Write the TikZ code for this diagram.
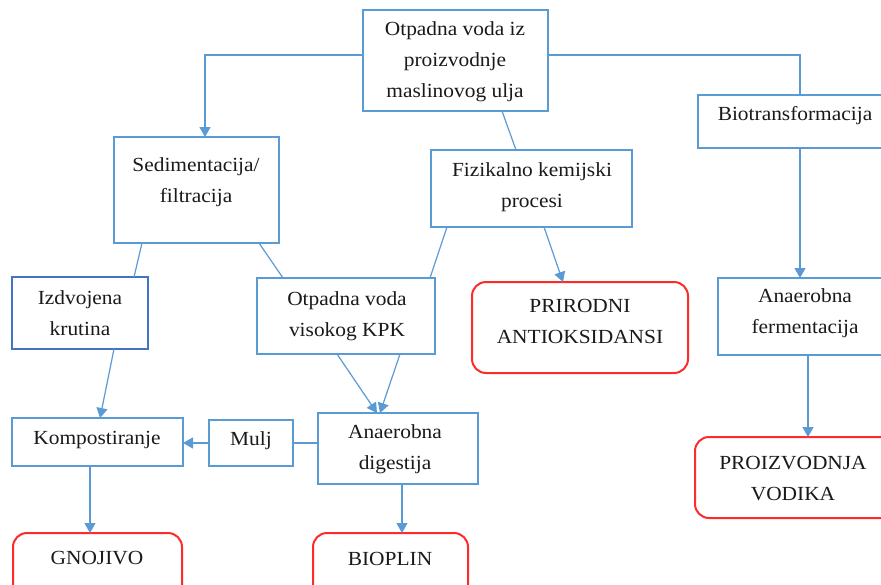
\documentclass[tikz,border=0pt]{standalone}
\usepackage{fontspec}
\setmainfont{Liberation Serif}[FakeStretch=1.07]
\usetikzlibrary{arrows.meta}
\definecolor{bblue}{HTML}{5B9BD5}
\definecolor{dblue}{HTML}{4472C4}
\definecolor{rred}{HTML}{FF2A2A}
\definecolor{ttext}{HTML}{1A1A1A}
\tikzset{
  box/.style={draw=bblue, line width=2pt, inner sep=0pt, outer sep=0pt, anchor=north west},
  rbox/.style={draw=rred, line width=2pt, rounded corners=14pt, inner sep=0pt, outer sep=0pt, anchor=north west},
  conn/.style={draw=bblue, line width=1.2pt},
  arr/.style={conn, -{Triangle[width=11pt,length=10pt]}},
  txt/.style={align=center, font=\fontsize{20}{31}\selectfont, inner sep=0pt, text=ttext, yshift=-3.5pt}
}
\begin{document}
\begin{tikzpicture}[x=1pt,y=-1pt]
\useasboundingbox (0,0) rectangle (881,584);
\fill[white] (0,0) rectangle (881,584);
% boxes
\node[box, minimum width=185pt, minimum height=101pt] (top) at (363,10) {};
\node[box, minimum width=165pt, minimum height=106pt] (sed) at (114,137) {};
\node[box, minimum width=197pt, minimum height=53pt] (biot) at (698,95) {};
\node[box, minimum width=201pt, minimum height=77pt] (fiz) at (431,150) {};
\node[box, draw=dblue, minimum width=136pt, minimum height=72pt] (izd) at (12,277) {};
\node[box, minimum width=178pt, minimum height=76pt] (kpk) at (257,278) {};
\node[rbox, minimum width=216pt, minimum height=91pt] (pri) at (472,282) {};
\node[box, minimum width=177pt, minimum height=77pt] (fer) at (718,278) {};
\node[rbox, minimum width=200pt, minimum height=81pt] (vod) at (695,437) {};
\node[box, minimum width=171pt, minimum height=48pt] (kom) at (12,418) {};
\node[box, minimum width=84pt, minimum height=46pt] (mul) at (209,420) {};
\node[box, minimum width=160pt, minimum height=71pt] (dig) at (318,413) {};
\node[rbox, minimum width=169pt, minimum height=67pt] (gno) at (13,533) {};
\node[rbox, minimum width=155pt, minimum height=67pt] (biop) at (313,533) {};
% texts
\node[txt] (ttop) at (455,58) {Otpadna voda iz\\proizvodnje\\maslinovog ulja};
\node[txt] (tsed) at (196,178.5) {Sedimentacija/\\filtracija};
\node[txt] (tbiot) at (795,112) {Biotransformacija};
\node[txt] (tfiz) at (532,183.5) {Fizikalno kemijski\\procesi};
\node[txt] (tpri) at (580,318) {PRIRODNI\\ANTIOKSIDANSI};
\node[txt] (tfer) at (805,310) {Anaerobna\\fermentacija};
\node[txt] (tvod) at (793,475) {PROIZVODNJA\\VODIKA};
\node[txt] (tizd) at (80,310) {Izdvojena\\krutina};
\node[txt] (tkpk) at (347,312.5) {Otpadna voda\\visokog KPK};
\node[txt] (tkom) at (97,437) {Kompostiranje};
\node[txt] (tmul) at (251,437) {Mulj};
\node[txt] (tdig) at (395,446) {Anaerobna\\digestija};
\node[txt] (tgno) at (97,555) {GNOJIVO};
\node[txt] (tbiop) at (390,555) {BIOPLIN};
% connectors
\draw[arr] ([yshift=-45pt]top.north west) -| ([xshift=91pt]sed.north west);
\draw[conn] ([yshift=-45pt]top.north east) -| ([xshift=102pt]biot.north west);
\draw[conn] ([xshift=139pt]top.south west) -- ([xshift=85pt]fiz.north west);
\draw[arr] ([xshift=102pt]biot.south west) -- ([xshift=82pt]fer.north west);
\draw[arr] ([xshift=90pt]fer.south west) -- ([xshift=113pt]vod.north west);
\draw[arr] ([xshift=113pt]fiz.south west) -- ([xshift=91pt]pri.north west);
\draw[conn] ([xshift=16pt]fiz.south west) -- ([xshift=173pt]kpk.north west);
\draw[conn] ([xshift=28pt]sed.south west) -- ([xshift=122pt]izd.north west);
\draw[conn] ([xshift=145pt]sed.south west) -- ([xshift=26pt]kpk.north west);
\draw[arr] ([xshift=102pt]izd.south west) -- ([xshift=88pt]kom.north west);
\draw[arr] ([xshift=80pt]kpk.south west) -- ([xshift=59pt]dig.north west);
\draw[arr] ([xshift=143pt]kpk.south west) -- ([xshift=62pt]dig.north west);
\draw[conn] (mul.east -| dig.west) -- (mul.east);
\draw[arr] (mul.west) -- (mul.west -| kom.east);
\draw[arr] ([xshift=78pt]kom.south west) -- ([xshift=77pt]gno.north west);
\draw[arr] ([xshift=84pt]dig.south west) -- ([xshift=89pt]biop.north west);
\end{tikzpicture}
\end{document}
